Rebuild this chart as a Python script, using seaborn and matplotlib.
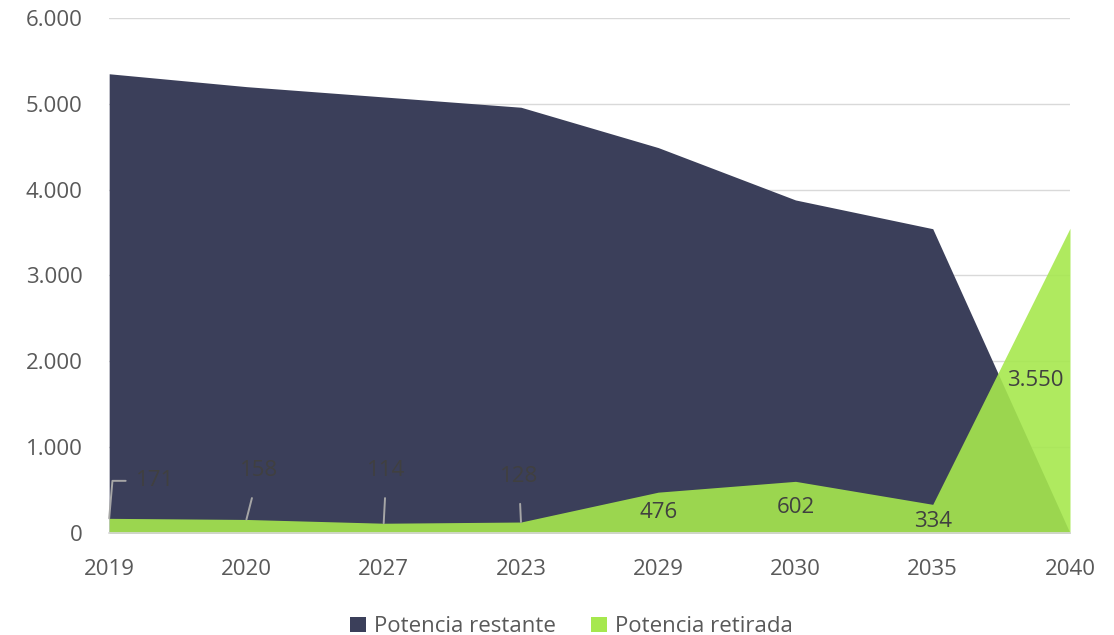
import matplotlib
matplotlib.use("Agg")
import matplotlib.pyplot as plt
import seaborn as sns
import numpy as np
import pandas as pd
from matplotlib.patches import Patch

years = ["2019", "2020", "2027", "2023", "2029", "2030", "2035", "2040"]
restante = [5350, 5200, 5080, 4960, 4490, 3880, 3545, 0]
retirada = [171, 158, 114, 128, 476, 602, 334, 3550]
retirada_labels = ["171", "158", "114", "128", "476", "602", "334", "3.550"]
yticks = [0, 1000, 2000, 3000, 4000, 5000, 6000]
ytick_labels = ["0", "1.000", "2.000", "3.000", "4.000", "5.000", "6.000"]

sns.set_theme(style="white")
plt.rcParams["font.family"] = ["Open Sans", "DejaVu Sans"]

dark = "#3b3f5a"
green = "#a6e84e"
txt = "#595959"
lab = "#404040"
FS = 16

df = pd.DataFrame({"x": np.arange(len(years)), "restante": restante, "retirada": retirada})

fig = plt.figure(figsize=(11.14, 6.35), dpi=100)
ax = fig.add_axes([0.098, 0.1606, 0.8625, 0.8111])

ax.fill_between(df["x"], df["restante"], 0, color=dark, linewidth=0, zorder=2)
ax.fill_between(df["x"], df["retirada"], 0, color=green, alpha=0.9, linewidth=0, zorder=3)
sns.lineplot(data=df, x="x", y="restante", ax=ax, color=dark, linewidth=0, zorder=2, legend=False)

ax.set_xlim(0, len(years) - 1)
ax.set_ylim(0, 6000)
ax.set_yticks(yticks)
ax.set_yticklabels(ytick_labels)
ax.set_xticks(np.arange(len(years)))
ax.set_xticklabels(years)
ax.set_xlabel("")
ax.set_ylabel("")
ax.grid(axis="y", color="#d9d9d9", linewidth=1, zorder=0)
ax.set_axisbelow(True)
for s in ["top", "right", "left"]:
    ax.spines[s].set_visible(False)
ax.spines["bottom"].set_color("#d9d9d9")
ax.spines["bottom"].set_linewidth(1.2)
ax.spines["bottom"].set_zorder(5)
ax.tick_params(axis="x", colors="#d9d9d9", length=6, width=1.2, direction="out", pad=13,
               labelcolor=txt, labelsize=FS)
ax.tick_params(axis="y", length=0, labelcolor=txt, labelsize=FS, pad=19)

# first label with elbow leader line
ax.annotate(retirada_labels[0], xy=(0, retirada[0]), xytext=(33, 27),
            textcoords="offset points", ha="center", va="center", fontsize=FS,
            color=lab, zorder=6,
            arrowprops=dict(arrowstyle="-", color="#a6a6a6", lw=1.4,
                            connectionstyle="angle,angleA=0,angleB=85,rad=0",
                            shrinkA=5, shrinkB=0))
# other small labels with straight leader lines
offsets = [(9, 35), (2, 38), (-1.5, 33)]
for i, off in zip(range(1, 4), offsets):
    ax.annotate(retirada_labels[i], xy=(i, retirada[i]), xytext=off,
                textcoords="offset points", ha="center", va="center", fontsize=FS,
                color=lab, zorder=6,
                arrowprops=dict(arrowstyle="-", color="#a6a6a6", lw=1.4,
                                shrinkA=10, shrinkB=0))
# labels below the points
below = [-14.5, -18.5, -12.2]
for i, dy in zip(range(4, 7), below):
    ax.annotate(retirada_labels[i], xy=(i, retirada[i]), xytext=(0, dy),
                textcoords="offset points", ha="center", va="center", fontsize=FS,
                color=lab, zorder=6)
ax.annotate(retirada_labels[7], xy=(7, retirada[7] / 2), xytext=(-25, 0),
            textcoords="offset points", ha="center", va="center", fontsize=FS,
            color=lab, zorder=6)

handles = [Patch(facecolor=dark, edgecolor="none", label="Potencia restante"),
           Patch(facecolor=green, edgecolor="none", label="Potencia retirada")]
leg = fig.legend(handles=handles, loc="lower center", ncol=2, frameon=False,
                 bbox_to_anchor=(0.513, -0.035), fontsize=FS, handlelength=0.7,
                 handleheight=0.7, handletextpad=0.35, columnspacing=1.6)
for t in leg.get_texts():
    t.set_color(txt)

fig.savefig("out.png", dpi=100)
